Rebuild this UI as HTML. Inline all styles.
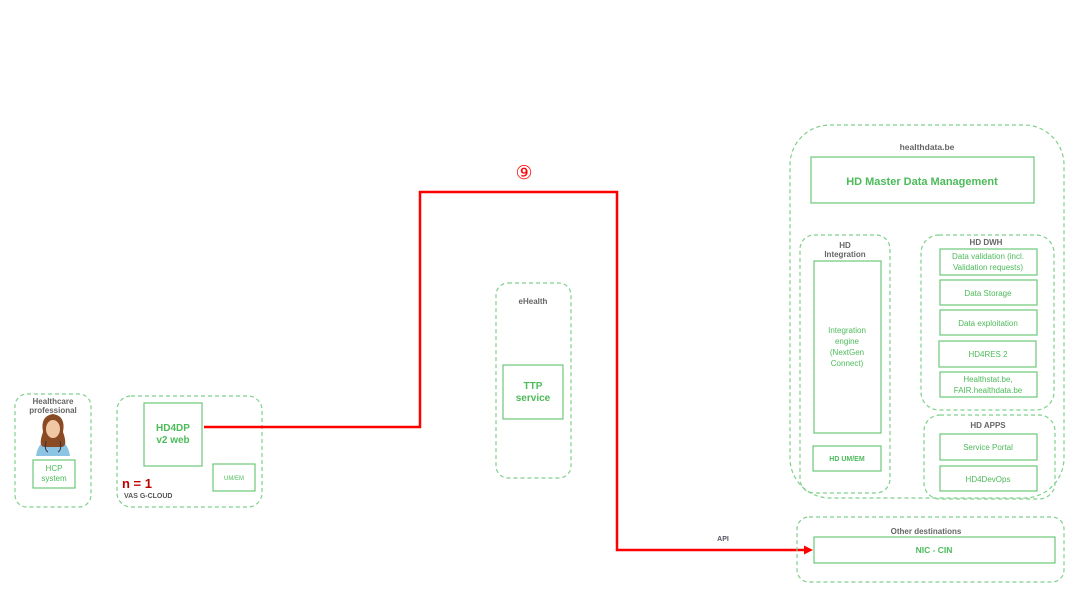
<!DOCTYPE html>
<html><head><meta charset="utf-8"><style>
html,body{margin:0;padding:0;background:#fff;}
svg{display:block;font-family:"Liberation Sans",sans-serif;}
.d{fill:none;stroke:#7fd08a;stroke-width:1.2;stroke-dasharray:4,3;}
.b{fill:#fff;stroke:#6cc879;stroke-width:1.2;}
.g{fill:#4cbb5a;text-anchor:middle;}
.t{fill:#666;text-anchor:middle;font-weight:bold;}
</style></head><body>
<svg width="1090" height="613" viewBox="0 0 1090 613">
<!-- Healthcare professional -->
<rect class="d" x="15" y="394" width="76" height="113" rx="12"/>
<text class="t" x="53" y="404" font-size="8">Healthcare</text>
<text class="t" x="53" y="413" font-size="8">professional</text>
<g>
<path d="M36 456 Q38 440 53 438 Q68 440 70 456 Z" fill="#8cc4e4"/>
<path d="M43 432 Q40 416 53 414 Q66 416 63 432 Q68 446 62 447 L44 447 Q38 446 43 432Z" fill="#8a4a24"/>
<ellipse cx="53" cy="429" rx="7" ry="9" fill="#f1c8a4"/>
<path d="M45 424 Q53 412 61 424 Q59 418 53 417 Q47 418 45 424Z" fill="#8a4a24"/>
<path d="M46 441 Q44 450 48 452 M60 441 Q62 450 58 452" stroke="#334" stroke-width="1" fill="none"/>
</g>
<rect class="b" x="33" y="460" width="42" height="28"/>
<text class="g" x="54" y="471" font-size="8">HCP</text>
<text class="g" x="54" y="481" font-size="8">system</text>

<!-- VAS -->
<rect class="d" x="117" y="396" width="145" height="111" rx="14"/>
<rect class="b" x="144" y="403" width="58" height="63"/>
<text class="g" x="173" y="431" font-size="10" font-weight="bold">HD4DP</text>
<text class="g" x="173" y="443" font-size="10" font-weight="bold">v2 web</text>
<rect class="b" x="213" y="464" width="42" height="27"/>
<text class="g" x="234" y="480" font-size="6">UM/EM</text>
<text x="122" y="488" font-size="13" font-weight="bold" fill="#c00000">n = 1</text>
<text x="124" y="498" font-size="7" font-weight="bold" fill="#555">VAS  G-CLOUD</text>

<!-- red connector -->
<polyline points="204,427 420,427 420,192 617,192 617,550 806,550" fill="none" stroke="#ff0000" stroke-width="2.5"/>
<polygon points="813,550 804,545.5 804,554.5" fill="#ff0000"/>
<text x="524" y="179" font-size="19" fill="#ff0000" text-anchor="middle">⑨</text>
<text x="723" y="541" font-size="7" font-weight="bold" fill="#556" text-anchor="middle">API</text>

<!-- eHealth -->
<rect class="d" x="496" y="283" width="75" height="195" rx="12"/>
<text class="t" x="533" y="304" font-size="8">eHealth</text>
<rect class="b" x="503" y="365" width="60" height="54"/>
<text class="g" x="533" y="389" font-size="10" font-weight="bold">TTP</text>
<text class="g" x="533" y="401" font-size="10" font-weight="bold">service</text>

<!-- healthdata.be -->
<rect class="d" x="790" y="125" width="274" height="373" rx="40"/>
<text class="t" x="927" y="150" font-size="8.5">healthdata.be</text>
<rect class="b" x="811" y="157" width="223" height="46"/>
<text class="g" x="922" y="185" font-size="11" font-weight="bold">HD Master Data Management</text>

<rect class="d" x="800" y="235" width="90" height="258" rx="14"/>
<text class="t" x="845" y="248" font-size="8">HD</text>
<text class="t" x="845" y="257" font-size="8">Integration</text>
<rect class="b" x="814" y="261" width="67" height="172"/>
<text class="g" x="847" y="333" font-size="8">Integration</text>
<text class="g" x="847" y="344" font-size="8">engine</text>
<text class="g" x="847" y="355" font-size="8">(NextGen</text>
<text class="g" x="847" y="366" font-size="8">Connect)</text>
<rect class="b" x="813" y="446" width="68" height="25"/>
<text class="g" x="847" y="461" font-size="7" font-weight="bold">HD UM/EM</text>

<rect class="d" x="921" y="235" width="133" height="175" rx="18"/>
<text class="t" x="986" y="245" font-size="8">HD DWH</text>
<rect class="b" x="940" y="249" width="97" height="26"/>
<text class="g" x="988" y="259" font-size="8">Data validation (incl.</text>
<text class="g" x="988" y="270" font-size="8">Validation requests)</text>
<rect class="b" x="940" y="280" width="97" height="25"/>
<text class="g" x="988" y="296" font-size="8">Data Storage</text>
<rect class="b" x="940" y="310" width="97" height="25"/>
<text class="g" x="988" y="326" font-size="8">Data exploitation</text>
<rect class="b" x="939" y="341" width="97" height="26"/>
<text class="g" x="988" y="357" font-size="8">HD4RES  2</text>
<rect class="b" x="940" y="372" width="97" height="25"/>
<text class="g" x="988" y="382" font-size="8">Healthstat.be,</text>
<text class="g" x="988" y="393" font-size="8">FAIR.healthdata.be</text>

<rect class="d" x="924" y="415" width="131" height="84" rx="16"/>
<text class="t" x="988" y="428" font-size="8">HD APPS</text>
<rect class="b" x="940" y="434" width="97" height="26"/>
<text class="g" x="988" y="450" font-size="8">Service Portal</text>
<rect class="b" x="940" y="466" width="97" height="25"/>
<text class="g" x="988" y="482" font-size="8">HD4DevOps</text>

<!-- Other destinations -->
<rect class="d" x="797" y="517" width="267" height="65" rx="12"/>
<text class="t" x="926" y="534" font-size="8">Other destinations</text>
<rect class="b" x="814" y="537" width="241" height="26"/>
<text class="g" x="934" y="553" font-size="8.5" font-weight="bold">NIC - CIN</text>
</svg>
</body></html>
